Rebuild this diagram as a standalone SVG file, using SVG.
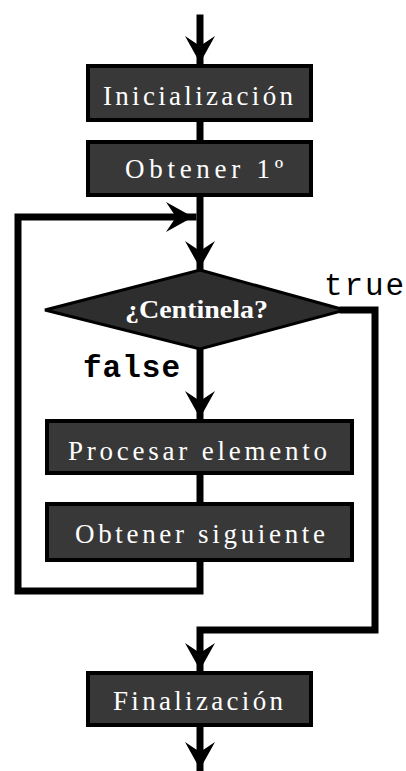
<svg xmlns="http://www.w3.org/2000/svg" width="406" height="771" viewBox="0 0 406 771">
<style>
.box{fill:#383838;stroke:#000;stroke-width:4}
.lbl{fill:#fff;font-family:"Liberation Serif","DejaVu Serif",serif;font-size:27px}
.dlbl{fill:#fff;font-family:"Liberation Serif","DejaVu Serif",serif;font-size:26px;font-weight:bold}
.ln{fill:none;stroke:#000;stroke-width:7;stroke-linejoin:miter;stroke-linecap:square}
.mono{fill:#000;font-family:"Liberation Mono","DejaVu Sans Mono",monospace;font-size:31px}
</style>
<defs>
<marker id="ah" markerUnits="userSpaceOnUse" markerWidth="40" markerHeight="40" viewBox="-30 -20 34 40" refX="0" refY="0" orient="auto">
<path d="M0,0 L-27,-15 L-17,0 L-27,15 Z" fill="#000"/>
</marker>
</defs>
<rect width="406" height="771" fill="#fff"/>
<g id="connectors">
<line class="ln" x1="200" y1="18" x2="200" y2="63" marker-end="url(#ah)"/>
<line class="ln" x1="200" y1="120" x2="200" y2="142"/>
<line class="ln" x1="200" y1="195" x2="200" y2="268" marker-end="url(#ah)"/>
<line class="ln" x1="200" y1="349" x2="200" y2="418" marker-end="url(#ah)"/>
<line class="ln" x1="200" y1="473" x2="200" y2="503"/>
<polyline class="ln" points="200,560 200,591 18,591 18,217 193,217" marker-end="url(#ah)"/>
<polyline class="ln" points="343,310 375,310 375,630 200,630 200,670" marker-end="url(#ah)"/>
<line class="ln" x1="200" y1="725" x2="200" y2="769" marker-end="url(#ah)"/>
</g>
<g id="n-inicializacion">
<rect class="box" x="88" y="66" width="223" height="54"/>
<text class="lbl" x="103" y="105" textLength="190" lengthAdjust="spacing">Inicialización</text>
</g>
<g id="n-obtener1">
<rect class="box" x="88" y="142" width="223" height="53"/>
<text class="lbl" x="125" y="178" textLength="158" lengthAdjust="spacing">Obtener 1º</text>
</g>
<g id="n-centinela">
<polygon points="200,270 345,310 200,349 45,310" fill="#2e2e2e" stroke="#000" stroke-width="3"/>
<text class="dlbl" x="125" y="318" textLength="143" lengthAdjust="spacingAndGlyphs">¿Centinela?</text>
</g>
<g id="n-procesar">
<rect class="box" x="47" y="421" width="305" height="52"/>
<text class="lbl" x="68" y="460" textLength="259" lengthAdjust="spacing">Procesar elemento</text>
</g>
<g id="n-siguiente">
<rect class="box" x="47" y="504" width="305" height="56"/>
<text class="lbl" x="75" y="543" textLength="250" lengthAdjust="spacing">Obtener siguiente</text>
</g>
<g id="n-finalizacion">
<rect class="box" x="88" y="673" width="223" height="52"/>
<text class="lbl" x="113" y="710" textLength="170" lengthAdjust="spacing">Finalización</text>
</g>
<g id="labels">
<text class="mono" x="324" y="295" textLength="80" lengthAdjust="spacing">true</text>
<text class="mono" x="83" y="377" textLength="97" lengthAdjust="spacing" font-weight="bold">false</text>
</g>
</svg>
